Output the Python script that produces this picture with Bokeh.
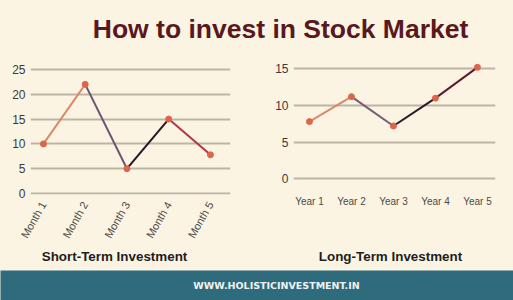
from bokeh.plotting import figure
from bokeh.layouts import column, row
from bokeh.models import FixedTicker, Range1d
from bokeh.core.properties import value
from bokeh.embed import file_html
from bokeh.resources import INLINE

title_text = "How to invest in Stock Market"
footer_text = "WWW.HOLISTICINVESTMENT.IN"

short_labels = ["Month 1", "Month 2", "Month 3", "Month 4", "Month 5"]
short_values = [10, 22, 5, 15, 7.8]
short_ticks = [0, 5, 10, 15, 20, 25]
short_title = "Short-Term Investment"

long_labels = ["Year 1", "Year 2", "Year 3", "Year 4", "Year 5"]
long_values = [7.8, 11.2, 7.2, 11.0, 15.2]
long_ticks = [0, 5, 10, 15]
long_title = "Long-Term Investment"

BG = "#fbf4e3"
GRID = "#bbb5a6"
MARKER = "#e0644a"
short_seg_colors = ["#d98a6c", "#6e5470", "#2c1422", "#b3334f"]
long_seg_colors = ["#d98a6c", "#7a5a6e", "#2c1828", "#5e1a34"]
FONT = "Liberation Sans"


def make_chart(labels, vals, ticks, width, height, bl, br, bt, bb,
               xr, yr, rotated, seg_colors):
    p = figure(width=width, height=height, output_backend="svg",
               toolbar_location=None, x_range=Range1d(*xr), y_range=Range1d(*yr),
               min_border_left=bl, min_border_right=br, min_border_top=bt,
               min_border_bottom=bb, background_fill_color=BG,
               border_fill_color=BG, outline_line_color=None)
    xs = list(range(1, len(labels) + 1))
    p.xaxis.ticker = FixedTicker(ticks=xs)
    p.xaxis.major_label_overrides = {x: lab for x, lab in zip(xs, labels)}
    p.yaxis.ticker = FixedTicker(ticks=ticks)
    for ax in (p.xaxis[0], p.yaxis[0]):
        ax.axis_line_color = None
        ax.major_tick_line_color = None
        ax.minor_tick_line_color = None
        ax.major_tick_out = 0
        ax.major_tick_in = 0
        ax.major_label_text_font = FONT
    p.yaxis.major_label_text_font_size = "12px"
    p.yaxis.major_label_text_color = "#3a3a3a"
    p.yaxis.major_label_standoff = 5
    p.xaxis.major_label_text_color = "#4a4a4a"
    if rotated:
        p.xaxis.major_label_text_font_size = "11px"
        p.xaxis.major_label_orientation = 1.05
        p.xaxis.major_label_standoff = 8
    else:
        p.xaxis.major_label_text_font_size = "10px"
        p.xaxis.major_label_standoff = 1
    p.xgrid.grid_line_color = None
    p.ygrid.grid_line_color = GRID
    p.ygrid.grid_line_width = 2
    p.segment(x0=xs[:-1], y0=vals[:-1], x1=xs[1:], y1=vals[1:],
              line_color=seg_colors, line_width=2)
    p.scatter(xs, vals, size=6, fill_color=MARKER, line_color=MARKER)
    return p


left = make_chart(short_labels, short_values, short_ticks,
                  257, 200, 30, 27, 10, 56, (0.69, 5.48), (-0.2, 26.81), True,
                  short_seg_colors)
right = make_chart(long_labels, long_values, long_ticks,
                   256, 200, 36, 18, 10, 56, (0.62, 5.43), (-2.14, 16.13), False,
                   long_seg_colors)


def strip(height, bg):
    f = figure(width=513, height=height, output_backend="svg",
               toolbar_location=None, x_range=Range1d(0, 513),
               y_range=Range1d(height, 0), min_border=0,
               background_fill_color=bg, border_fill_color=bg,
               outline_line_color=None)
    f.axis.visible = False
    f.grid.visible = False
    return f


top = strip(50, BG)
top.text(x=[280], y=[28], text=[title_text], text_font=value(FONT),
         text_font_style="bold", text_font_size="26.5px", text_color="#5a181d",
         text_align="center", text_baseline="middle")

mid = strip(20, BG)
mid.text(x=[114, 390], y=[6, 6], text=[short_title, long_title],
         text_font=value(FONT), text_font_style="bold", text_font_size="13.4px",
         text_color="#1e1e1e", text_align="center", text_baseline="middle")

foot = strip(30, "#2e6b7c")
foot.text(x=[276], y=[15], text=[footer_text], text_font=value("DejaVu Sans"),
          text_font_style="bold", text_font_size="9.5px", text_color="#f2f2f2",
          text_align="center", text_baseline="middle")

layout = column(top, row(left, right, spacing=0), mid, foot, spacing=0,
                styles={"background-color": BG})
open("out.html", "w").write(file_html(layout, INLINE))
